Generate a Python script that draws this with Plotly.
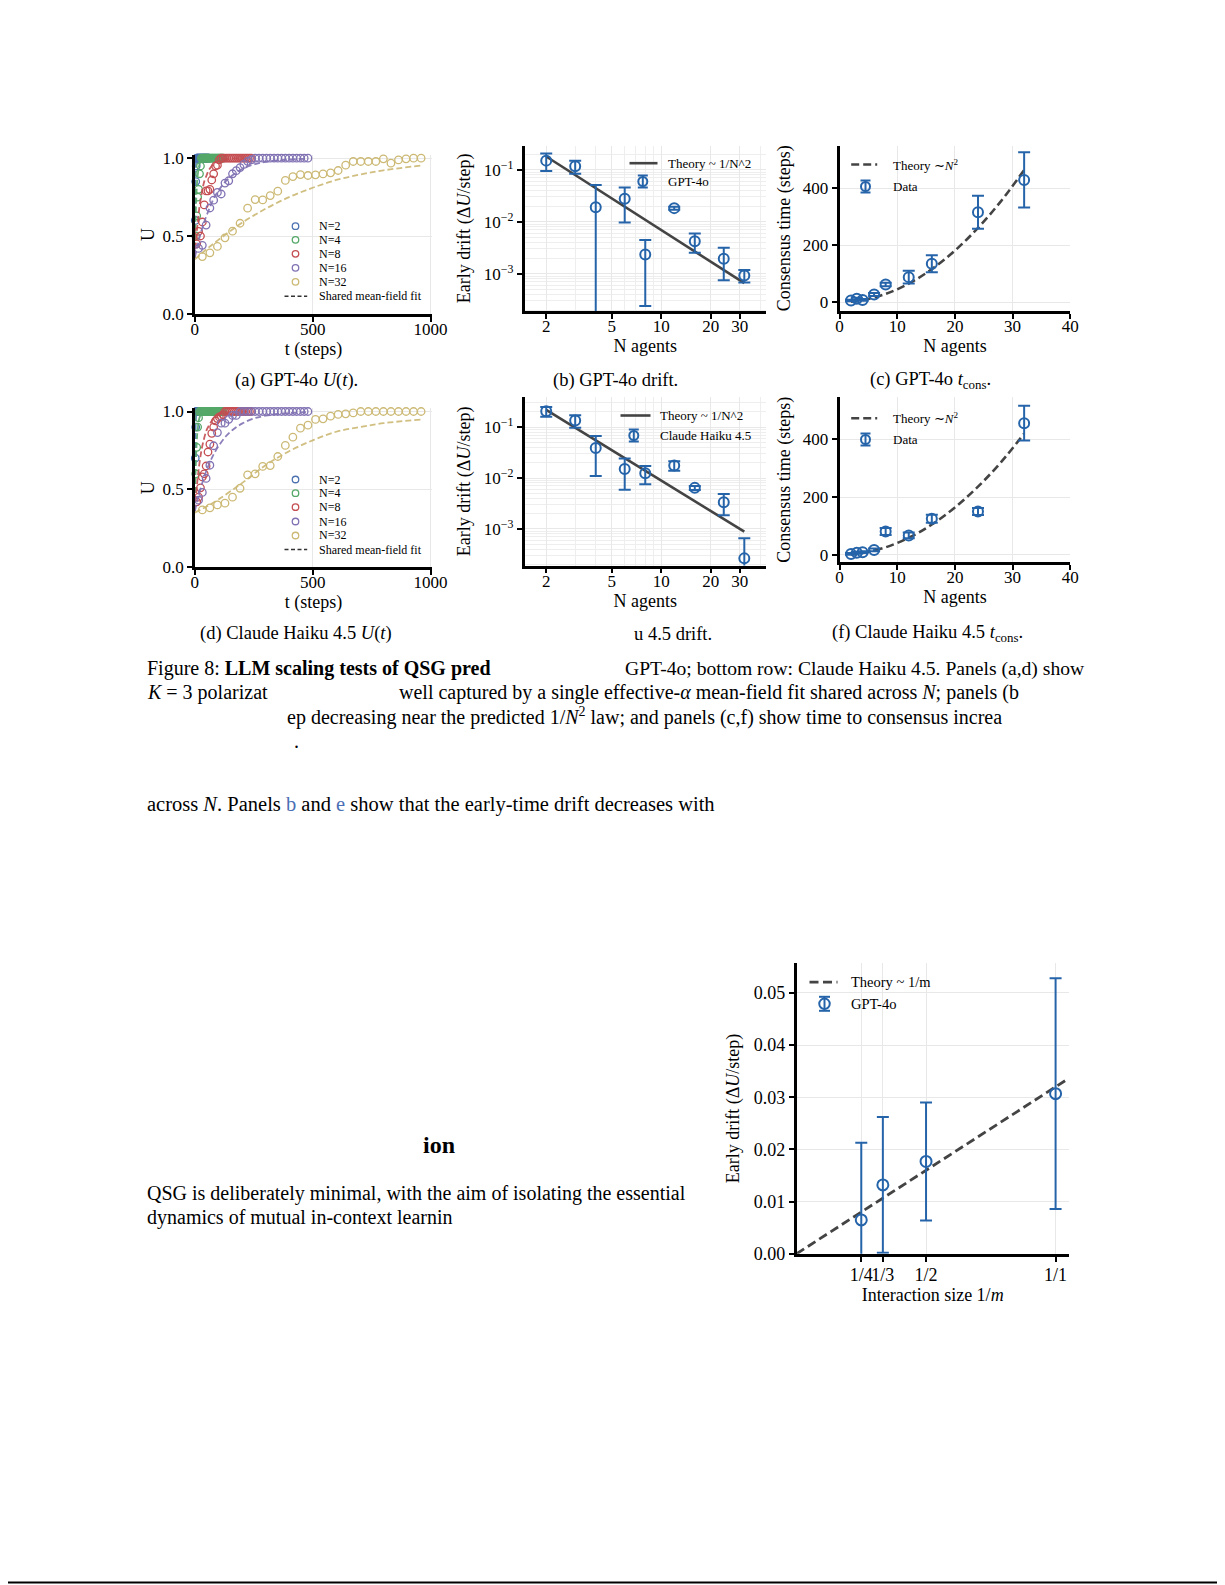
import plotly.graph_objects as go

W, H = 1225, 1585
FONT = "Liberation Serif"
OFFX, OFFY = -7.5, -7.5   # global placement correction

# ---------------- data: panels (a) and (d), U(t) ----------------
N_values = [2, 4, 8, 16, 32]
N_labels = ["N=2", "N=4", "N=8", "N=16", "N=32"]
round_index = list(range(1, 31))  # one measurement every N steps, 30 rounds

gpt_U_N2 = [0.60, 0.85, 0.95, 1.0, 1.0, 1.0, 1.0, 1.0, 1.0, 1.0, 1.0, 1.0, 1.0, 1.0, 1.0,
            1.0, 1.0, 1.0, 1.0, 1.0, 1.0, 1.0, 1.0, 1.0, 1.0, 1.0, 1.0, 1.0, 1.0, 1.0]
gpt_U_N4 = [0.50, 0.63, 0.75, 0.80, 0.90, 0.95, 1.0, 1.0, 1.0, 1.0, 1.0, 1.0, 1.0, 1.0, 1.0,
            1.0, 1.0, 1.0, 1.0, 1.0, 1.0, 1.0, 1.0, 1.0, 1.0, 1.0, 1.0, 1.0, 1.0, 1.0]
gpt_U_N8 = [0.45, 0.53, 0.50, 0.59, 0.70, 0.79, 0.79, 0.80, 0.86, 0.90, 0.95, 0.955, 0.99, 1.0, 1.0,
            1.0, 1.0, 1.0, 1.0, 1.0, 1.0, 1.0, 1.0, 1.0, 1.0, 1.0, 1.0, 1.0, 1.0, 1.0]
gpt_U_N16 = [0.42, 0.44, 0.57, 0.68, 0.73, 0.78, 0.77, 0.84, 0.855, 0.90, 0.92, 0.94, 0.96, 0.98, 0.99,
             1.0, 1.0, 1.0, 1.0, 1.0, 1.0, 1.0, 1.0, 1.0, 1.0, 1.0, 1.0, 1.0, 1.0, 1.0]
gpt_U_N32 = [0.368, 0.392, 0.433, 0.488, 0.531, 0.582, 0.679, 0.734, 0.732, 0.760, 0.788, 0.857, 0.882,
             0.895, 0.889, 0.893, 0.899, 0.906, 0.921, 0.955, 0.979, 0.979, 0.979, 0.979, 0.996, 0.968,
             0.989, 0.996, 1.0, 1.0]

claude_U_N2 = [0.70, 0.90, 1.0, 1.0, 1.0, 1.0, 1.0, 1.0, 1.0, 1.0, 1.0, 1.0, 1.0, 1.0, 1.0,
               1.0, 1.0, 1.0, 1.0, 1.0, 1.0, 1.0, 1.0, 1.0, 1.0, 1.0, 1.0, 1.0, 1.0, 1.0]
claude_U_N4 = [0.60, 0.77, 0.90, 0.96, 1.0, 1.0, 1.0, 1.0, 1.0, 1.0, 1.0, 1.0, 1.0, 1.0, 1.0,
               1.0, 1.0, 1.0, 1.0, 1.0, 1.0, 1.0, 1.0, 1.0, 1.0, 1.0, 1.0, 1.0, 1.0, 1.0]
claude_U_N8 = [0.42, 0.45, 0.51, 0.58, 0.60, 0.65, 0.74, 0.79, 0.86, 0.90, 0.94, 0.955, 0.965, 0.97, 0.98,
               1.0, 1.0, 1.0, 1.0, 1.0, 1.0, 1.0, 1.0, 1.0, 1.0, 1.0, 1.0, 1.0, 1.0, 1.0]
claude_U_N16 = [0.43, 0.48, 0.57, 0.655, 0.78, 0.865, 0.925, 0.925, 0.95, 0.975, 0.975, 1.0, 1.0, 1.0, 1.0,
                1.0, 1.0, 1.0, 1.0, 1.0, 1.0, 1.0, 1.0, 1.0, 1.0, 1.0, 1.0, 1.0, 1.0, 1.0]
claude_U_N32 = [0.368, 0.381, 0.400, 0.411, 0.450, 0.507, 0.593, 0.600, 0.647, 0.653, 0.711, 0.782, 0.835,
                0.893, 0.912, 0.949, 0.953, 0.970, 0.981, 0.985, 0.991, 1.0, 1.0, 1.0, 1.0, 1.0, 1.0,
                1.0, 1.0, 1.0]

# shared mean-field fit curves
gpt_fit_t_N2 = [0, 1, 2, 3, 4, 6, 10, 60]
gpt_fit_U_N2 = [0.36, 0.63, 0.79, 0.88, 0.93, 0.977, 0.997, 1.0]
gpt_fit_t_N4 = [0, 2, 4, 6, 8, 10, 14, 20, 30, 50, 120]
gpt_fit_U_N4 = [0.36, 0.52, 0.64, 0.73, 0.80, 0.85, 0.91, 0.96, 0.99, 1.0, 1.0]
gpt_fit_t_N8 = [0, 5, 10, 15, 20, 30, 40, 50, 60, 80, 100, 140, 240]
gpt_fit_U_N8 = [0.36, 0.46, 0.55, 0.625, 0.69, 0.78, 0.85, 0.89, 0.925, 0.963, 0.982, 0.996, 1.0]
gpt_fit_t_N16 = [0, 20, 40, 60, 80, 100, 130, 160, 200, 250, 300, 380, 480]
gpt_fit_U_N16 = [0.36, 0.49, 0.59, 0.67, 0.74, 0.79, 0.85, 0.89, 0.93, 0.96, 0.977, 0.99, 0.997]
gpt_fit_t_N32 = [0, 50, 100, 200, 300, 400, 500, 600, 700, 800, 960]
gpt_fit_U_N32 = [0.35, 0.415, 0.475, 0.585, 0.675, 0.75, 0.81, 0.86, 0.895, 0.922, 0.953]

claude_fit_t_N2 = [0, 1, 2, 3, 4, 6, 10, 60]
claude_fit_U_N2 = [0.36, 0.63, 0.79, 0.88, 0.93, 0.977, 0.997, 1.0]
claude_fit_t_N4 = [0, 2, 4, 6, 8, 10, 14, 20, 30, 50, 120]
claude_fit_U_N4 = [0.36, 0.52, 0.64, 0.73, 0.80, 0.85, 0.91, 0.96, 0.99, 1.0, 1.0]
claude_fit_t_N8 = [0, 10, 20, 30, 40, 50, 60, 80, 100, 130, 170, 240]
claude_fit_U_N8 = [0.36, 0.54, 0.67, 0.765, 0.83, 0.88, 0.91, 0.956, 0.977, 0.991, 0.998, 1.0]
claude_fit_t_N16 = [0, 20, 40, 60, 80, 100, 130, 160, 200, 250, 300, 380, 480]
claude_fit_U_N16 = [0.36, 0.48, 0.58, 0.66, 0.725, 0.776, 0.838, 0.881, 0.922, 0.955, 0.973, 0.988, 0.996]
claude_fit_t_N32 = [0, 50, 100, 200, 300, 400, 500, 600, 700, 800, 960]
claude_fit_U_N32 = [0.35, 0.39, 0.435, 0.54, 0.655, 0.745, 0.815, 0.87, 0.90, 0.925, 0.948]

# ---------------- data: panels (b) and (e), early drift ----------------
N_agents = [2, 3, 4, 6, 8, 12, 16, 24, 32]
gpt_drift = [0.150, 0.117, 0.019, 0.0277, 0.00234, 0.0183, 0.00424, 0.00195, 0.00093]
gpt_drift_err = [0.055, 0.033, 0.032, 0.018, 0.0021, 0.0012, 0.0017, 0.0012, 0.00025]
claude_drift = [0.206, 0.135, 0.039, 0.0151, 0.0124, 0.0176, 0.0064, 0.00334, 0.000262]
claude_drift_err = [0.045, 0.037, 0.028, 0.0092, 0.0049, 0.0037, 0.0006, 0.0015, 0.00039]
theory_drift_N = [2, 32]
gpt_theory_drift = [0.18, 0.00066]
claude_theory_drift = [0.22, 0.00088]

# ---------------- data: panels (c) and (f), consensus time ----------------
gpt_tcons = [6, 12, 8, 27, 62, 88, 135, 316, 429]
gpt_tcons_err = [3, 4, 3, 5, 6, 22, 30, 58, 97]
claude_tcons = [3, 7, 9, 17, 81, 67, 125, 150, 456]
claude_tcons_err = [3, 3, 3, 5, 12, 10, 14, 12, 60]
theory_tcons_N = [2, 4, 8, 12, 16, 20, 24, 28, 32]
gpt_theory_tcons = [1.8, 7.2, 29, 65, 116, 181, 261, 355, 464]
claude_theory_tcons = [1.6, 6.6, 26, 59, 105, 164, 236, 321, 420]

# ---------------- data: bottom panel, interaction size ----------------
inv_m = [0.25, 1 / 3, 0.5, 1.0]
inv_m_labels = ["1/4", "1/3", "1/2", "1/1"]
drift_m = [0.0065, 0.0132, 0.0177, 0.0307]
drift_m_err = [0.0148, 0.0130, 0.0113, 0.0221]
theory_m_x = [0.0, 1.05]
theory_m_y = [0.0, 0.0336]

# ---------------- styling ----------------
series_colors = ["#4C72B0", "#55A868", "#C44E52", "#8172B3", "#CCB974"]
BLUE = "#2664aa"
THEORY = "#444444"


def px(x):
    return (x + OFFX) / W


def py(y):
    return 1 - (y + OFFY) / H


def dom_x(x0, x1):
    return [px(x0), px(x1)]


def dom_y(ytop, ybot):
    return [py(ybot), py(ytop)]


fig = go.Figure()

# panels (a) and (d)
gpt_U = [gpt_U_N2, gpt_U_N4, gpt_U_N8, gpt_U_N16, gpt_U_N32]
gpt_fit_t = [gpt_fit_t_N2, gpt_fit_t_N4, gpt_fit_t_N8, gpt_fit_t_N16, gpt_fit_t_N32]
gpt_fit_U = [gpt_fit_U_N2, gpt_fit_U_N4, gpt_fit_U_N8, gpt_fit_U_N16, gpt_fit_U_N32]
claude_U = [claude_U_N2, claude_U_N4, claude_U_N8, claude_U_N16, claude_U_N32]
claude_fit_t = [claude_fit_t_N2, claude_fit_t_N4, claude_fit_t_N8, claude_fit_t_N16, claude_fit_t_N32]
claude_fit_U = [claude_fit_U_N2, claude_fit_U_N4, claude_fit_U_N8, claude_fit_U_N16, claude_fit_U_N32]

for (Us, fts, fUs, xa, ya) in [(gpt_U, gpt_fit_t, gpt_fit_U, "x", "y"),
                               (claude_U, claude_fit_t, claude_fit_U, "x4", "y4")]:
    for i, N in enumerate(N_values):
        t = [N * k for k in round_index]
        fig.add_trace(go.Scatter(
            x=t, y=Us[i], mode="markers", xaxis=xa, yaxis=ya, showlegend=False,
            name=N_labels[i], cliponaxis=False,
            marker=dict(symbol="circle-open", size=7.5, color=series_colors[i],
                        line=dict(width=1.3, color=series_colors[i]))))
        fig.add_trace(go.Scatter(
            x=fts[i], y=fUs[i], mode="lines", xaxis=xa, yaxis=ya, showlegend=False,
            line=dict(color=series_colors[i], width=1.8, dash="6px,3px", shape="spline"),
            opacity=0.9, name="Shared mean-field fit"))

# panels (b) and (e)
for (yv, ye, thy, xa, ya, nm) in [(gpt_drift, gpt_drift_err, gpt_theory_drift, "x2", "y2", "GPT-4o"),
                                  (claude_drift, claude_drift_err, claude_theory_drift, "x5", "y5",
                                   "Claude Haiku 4.5")]:
    fig.add_trace(go.Scatter(x=theory_drift_N, y=thy, mode="lines", xaxis=xa, yaxis=ya,
                             showlegend=False, name="Theory ~ 1/N^2",
                             line=dict(color=THEORY, width=2.6)))
    fig.add_trace(go.Scatter(
        x=N_agents, y=yv, mode="markers", xaxis=xa, yaxis=ya, showlegend=False, name=nm,
        marker=dict(symbol="circle-open", size=10, color=BLUE, line=dict(width=2, color=BLUE)),
        error_y=dict(type="data", array=ye, visible=True, color=BLUE, thickness=2, width=6)))

# panels (c) and (f)
for (yv, ye, thy, xa, ya) in [(gpt_tcons, gpt_tcons_err, gpt_theory_tcons, "x3", "y3"),
                              (claude_tcons, claude_tcons_err, claude_theory_tcons, "x6", "y6")]:
    fig.add_trace(go.Scatter(x=theory_tcons_N, y=thy, mode="lines", xaxis=xa, yaxis=ya,
                             showlegend=False, name="Theory ~N^2",
                             line=dict(color=THEORY, width=2.6, dash="8px,4px", shape="spline")))
    fig.add_trace(go.Scatter(
        x=N_agents, y=yv, mode="markers", xaxis=xa, yaxis=ya, showlegend=False, name="Data",
        marker=dict(symbol="circle-open", size=10, color=BLUE, line=dict(width=2, color=BLUE)),
        error_y=dict(type="data", array=ye, visible=True, color=BLUE, thickness=2, width=6)))

# bottom panel
fig.add_trace(go.Scatter(x=theory_m_x, y=theory_m_y, mode="lines", xaxis="x7", yaxis="y7",
                         showlegend=False, name="Theory ~ 1/m",
                         line=dict(color=THEORY, width=2.8, dash="9px,4.5px")))
fig.add_trace(go.Scatter(
    x=inv_m, y=drift_m, mode="markers", xaxis="x7", yaxis="y7", showlegend=False, name="GPT-4o",
    marker=dict(symbol="circle-open", size=11, color=BLUE, line=dict(width=2, color=BLUE)),
    error_y=dict(type="data", array=drift_m_err, visible=True, color=BLUE, thickness=2, width=6)))

# ---------------- axes ----------------
TICK = dict(family=FONT, size=17, color="black")
base = dict(showline=True, linecolor="black", linewidth=2.5, mirror=False,
            ticks="outside", ticklen=5, tickwidth=1.5, tickcolor="black",
            showgrid=True, gridcolor="#e8e8e8", gridwidth=0.8, zeroline=False,
            tickfont=TICK, automargin=False, layer="above traces")
tfont = dict(family=FONT, size=18, color="black")


def ax(**kw):
    d = dict(base)
    d.update(kw)
    return d


log_y_minor = [m * 10 ** k for k in (-4, -3, -2, -1) for m in range(2, 10)]
log_x_minor = [3, 4, 6, 7, 8, 9, 40]
minor_y = dict(tickvals=log_y_minor, showgrid=True, gridcolor="#eeeeee", gridwidth=0.6, ticks="")
minor_x = dict(tickvals=log_x_minor, showgrid=True, gridcolor="#eeeeee", gridwidth=0.6, ticks="")
drift_ticks = dict(tickvals=[0.001, 0.01, 0.1],
                   ticktext=["10<sup>\u22123</sup>", "10<sup>\u22122</sup>", "10<sup>\u22121</sup>"])
N_ticks = dict(tickvals=[2, 5, 10, 20, 30], ticktext=["2", "5", "10", "20", "30"])
XS = -7  # x tick label standoff

fig.update_layout(
    width=W, height=H, margin=dict(l=0, r=0, t=0, b=0),
    paper_bgcolor="white", plot_bgcolor="white", showlegend=False,
    font=dict(family=FONT, color="black"),
    # (a)
    xaxis=ax(domain=dom_x(194.3, 431.7), range=[0, 1007], anchor="y", ticklabelstandoff=XS,
             tickvals=[0, 500, 1000], title=dict(text="t (steps)", font=tfont, standoff=2)),
    yaxis=ax(domain=dom_y(154.6, 313.3), range=[0, 1.02], anchor="x",
             tickvals=[0, 0.5, 1.0], ticktext=["0.0", "0.5", "1.0"],
             title=dict(text="U", font=tfont, standoff=4)),
    # (b)
    xaxis2=ax(domain=dom_x(524, 765.5), type="log", range=[0.169, 1.637], anchor="y2",
              ticklabelstandoff=XS, minor=minor_x,
              title=dict(text="N agents", font=tfont, standoff=2), **N_ticks),
    yaxis2=ax(domain=dom_y(145, 310.7), type="log", range=[-3.72, -0.533], anchor="x2",
              minor=minor_y, title=dict(text="Early drift (\u0394<i>U</i>/step)", font=tfont, standoff=9),
              **drift_ticks),
    # (c)
    xaxis3=ax(domain=dom_x(839, 1069.8), range=[0, 40], anchor="y3", ticklabelstandoff=XS,
              tickvals=[0, 10, 20, 30, 40], title=dict(text="N agents", font=tfont, standoff=2)),
    yaxis3=ax(domain=dom_y(145, 310.7), range=[-31.6, 550], anchor="x3",
              tickvals=[0, 200, 400], title=dict(text="Consensus time (steps)", font=tfont, standoff=8)),
    # (d)
    xaxis4=ax(domain=dom_x(194.3, 431.7), range=[0, 1007], anchor="y4", ticklabelstandoff=XS,
              tickvals=[0, 500, 1000], title=dict(text="t (steps)", font=tfont, standoff=2)),
    yaxis4=ax(domain=dom_y(407.9, 566.7), range=[0, 1.02], anchor="x4",
              tickvals=[0, 0.5, 1.0], ticktext=["0.0", "0.5", "1.0"],
              title=dict(text="U", font=tfont, standoff=4)),
    # (e)
    xaxis5=ax(domain=dom_x(524, 765.5), type="log", range=[0.169, 1.637], anchor="y5",
              ticklabelstandoff=XS, minor=minor_x,
              title=dict(text="N agents", font=tfont, standoff=2), **N_ticks),
    yaxis5=ax(domain=dom_y(396.7, 565), type="log", range=[-3.722, -0.409], anchor="x5",
              minor=minor_y, title=dict(text="Early drift (\u0394<i>U</i>/step)", font=tfont, standoff=9),
              **drift_ticks),
    # (f)
    xaxis6=ax(domain=dom_x(839, 1069.8), range=[0, 40], anchor="y6", ticklabelstandoff=XS,
              tickvals=[0, 10, 20, 30, 40], title=dict(text="N agents", font=tfont, standoff=2)),
    yaxis6=ax(domain=dom_y(396.7, 561.7), range=[-25.6, 546], anchor="x6",
              tickvals=[0, 200, 400], title=dict(text="Consensus time (steps)", font=tfont, standoff=8)),
    # bottom
    xaxis7=ax(domain=dom_x(796, 1068.3), range=[0, 1.051], anchor="y7", tickangle=0,
              ticklabelstandoff=-2, tickvals=inv_m, ticktext=inv_m_labels,
              tickfont=dict(family=FONT, size=18, color="black"),
              title=dict(text="Interaction size 1/<i>m</i>", font=tfont, standoff=2)),
    yaxis7=ax(domain=dom_y(962.7, 1253.3), range=[0, 0.0557], anchor="x7",
              tickvals=[0, 0.01, 0.02, 0.03, 0.04, 0.05], tickformat=".2f",
              tickfont=dict(family=FONT, size=18, color="black"),
              title=dict(text="Early drift (\u0394<i>U</i>/step)", font=tfont, standoff=10)),
)

# ---------------- legends (drawn as glyphs + text) ----------------
shapes = []
annotations = []


def txt(x, y, s, size, anchor="left", **kw):
    annotations.append(dict(x=px(x), y=py(y), xref="paper", yref="paper", text=s,
                            showarrow=False, xanchor=anchor, yanchor="middle",
                            font=dict(family=FONT, size=size, color="black"), **kw))


def circle(xc, yc, d, color, lw):
    r = d / 2
    shapes.append(dict(type="circle", xref="paper", yref="paper",
                       x0=px(xc - r), x1=px(xc + r), y0=py(yc + r), y1=py(yc - r),
                       line=dict(color=color, width=lw), fillcolor="rgba(0,0,0,0)"))


def seg(x0, y0, x1, y1, color, lw, dash="solid"):
    shapes.append(dict(type="line", xref="paper", yref="paper",
                       x0=px(x0), x1=px(x1), y0=py(y0), y1=py(y1),
                       line=dict(color=color, width=lw, dash=dash)))


def errglyph(xc, yc, d, half, cap):
    seg(xc, yc - half, xc, yc + half, BLUE, 2)
    seg(xc - cap, yc - half, xc + cap, yc - half, BLUE, 2)
    seg(xc - cap, yc + half, xc + cap, yc + half, BLUE, 2)
    circle(xc, yc, d, BLUE, 2)


for rows in ([225.7, 239.3, 253.3, 267.3, 281.3, 295.7], [479, 492.7, 506.7, 521, 535, 549]):
    for i in range(5):
        circle(295, rows[i], 6.5, series_colors[i], 1.3)
        txt(316, rows[i], N_labels[i], 12)
    seg(284, rows[5], 306.7, rows[5], "#333333", 1.4, "4px,2.5px")
    txt(316, rows[5], "Shared mean-field fit", 12)

# (b)
seg(629, 162.7, 657, 162.7, THEORY, 2.6)
txt(665, 162.7, "Theory ~ 1/N^2", 13)
errglyph(642.3, 181, 9, 6, 5)
txt(665, 181, "GPT-4o", 13)
# (e)
seg(620, 415, 650, 415, THEORY, 2.6)
txt(657, 415, "Theory ~ 1/N^2", 13)
errglyph(633.3, 435, 9, 6, 5)
txt(657, 435, "Claude Haiku 4.5", 13)
# (c)
seg(850.7, 164, 876.7, 164, THEORY, 2.6, "8px,4px")
txt(890, 164, "Theory \u223c<i>N</i><sup>2</sup>", 13)
errglyph(865, 186, 9, 6, 5)
txt(890, 186, "Data", 13)
# (f)
seg(850.7, 417.7, 876.7, 417.7, THEORY, 2.6, "8px,4px")
txt(890, 417.7, "Theory \u223c<i>N</i><sup>2</sup>", 13)
errglyph(865, 439, 9, 6, 5)
txt(890, 439, "Data", 13)
# bottom
seg(809, 981.7, 837, 981.7, THEORY, 2.8, "9px,4.5px")
txt(848, 981.7, "Theory ~ 1/m", 14.5)
errglyph(824, 1003.3, 10.5, 7, 5.5)
txt(848, 1003.3, "GPT-4o", 14.5)

# ---------------- captions and page text ----------------
txt(232, 380, "(a) GPT-4o <i>U</i>(<i>t</i>).", 18.5)
txt(550, 380, "(b) GPT-4o drift.", 18.5)
txt(867, 380, "(c) GPT-4o <i>t</i><sub>cons</sub>.", 18.5)
txt(197, 633, "(d) Claude Haiku 4.5 <i>U</i>(<i>t</i>)", 18.5)
txt(631, 633, "u 4.5 drift.", 18.5)
txt(830, 633, "(f) Claude Haiku 4.5 <i>t</i><sub>cons</sub>.", 18.5)

txt(144, 668, "Figure 8: <b>LLM scaling tests of QSG pred</b>", 20)
txt(622, 668, "GPT-4o; bottom row: Claude Haiku 4.5. Panels (a,d) show", 19.6)
txt(144, 692, "<i>K</i> = 3 polarizat", 20)
txt(396, 692, "well captured by a single effective-<i>\u03b1</i> mean-field fit shared across <i>N</i>; panels (b", 20)
txt(284, 716, "ep decreasing near the predicted 1/<i>N</i><sup>2</sup> law; and panels (c,f) show time to consensus increa", 20)
txt(291, 740, ".", 20)
txt(144, 804, "across <i>N</i>. Panels <span style='color:#4a6fb5'>b</span> and "
              "<span style='color:#4a6fb5'>e</span> show that the early-time drift decreases with", 20.5)
txt(420, 1144, "<b>ion</b>", 24)
txt(144, 1193, "QSG is deliberately minimal, with the aim of isolating the essential", 20)
txt(144, 1217, "dynamics of mutual in-context learnin", 20)

shapes.append(dict(type="line", xref="paper", yref="paper", x0=0, x1=1, y0=py(1582), y1=py(1582),
                   line=dict(color="black", width=2)))

fig.update_layout(shapes=shapes, annotations=annotations)
fig.write_html("out.html")
